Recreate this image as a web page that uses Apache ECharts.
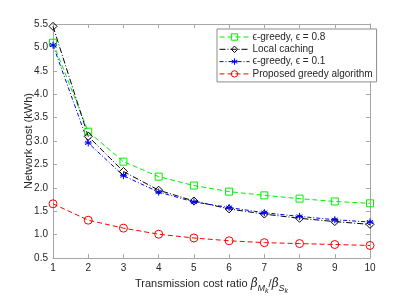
<!DOCTYPE html>
<html>
<head>
<meta charset="utf-8">
<script src="https://cdn.jsdelivr.net/npm/echarts@6/dist/echarts.min.js"></script>
<style>html,body{margin:0;padding:0;background:#fff}#c{width:409px;height:300px}</style>
</head>
<body>
<div id="c"></div>
<script>
const xValues = [1, 2, 3, 4, 5, 6, 7, 8, 9, 10];
const greedy08 = [5.1, 3.2, 2.56, 2.24, 2.05, 1.92, 1.84, 1.77, 1.71, 1.67];
const localCaching = [5.45, 3.1, 2.35, 1.95, 1.72, 1.55, 1.44, 1.35, 1.28, 1.22];
const greedy01 = [5.05, 2.96, 2.26, 1.91, 1.70, 1.58, 1.47, 1.39, 1.32, 1.27];
const proposed = [1.66, 1.31, 1.14, 1.01, 0.93, 0.87, 0.83, 0.81, 0.79, 0.77];
const seriesNames = ['ϵ-greedy, ϵ = 0.8', 'Local caching', 'ϵ-greedy, ϵ = 0.1', 'Proposed greedy algorithm'];

const font = 'Liberation Sans, Arial, Helvetica, sans-serif';
const textColor = '#262626';
const axisColor = '#a6a6a6';
const asterisk = 'path://M0,-10L0,10M-8.7,-5L8.7,5M-8.7,5L8.7,-5M-10,0L10,0';

function pairs(arr) { return xValues.map((x, i) => [x, arr[i]]); }

function mk(name, data, color, symbol, dash, size) {
  return {
    name: name, type: 'line', data: pairs(data),
    symbol: symbol, symbolSize: size,
    lineStyle: { color: color, width: 1, type: dash },
    itemStyle: { color: 'rgba(255,255,255,0)', borderColor: color, borderWidth: 1 },
    emphasis: { disabled: true },
    animation: false, z: 3
  };
}

const chart = echarts.init(document.getElementById('c'), null, { renderer: 'canvas' });
chart.setOption({
  animation: false,
  backgroundColor: '#fff',
  textStyle: { fontFamily: font },
  grid: { left: 53, right: 39, top: 24, bottom: 39 },
  legend: {
    orient: 'vertical', left: 217, top: 29, width: 146,
    backgroundColor: '#fff', borderColor: '#8c8c8c', borderWidth: 1,
    padding: [3, 4, 3, 2], itemGap: 2.3, itemWidth: 30, itemHeight: 8,
    lineStyle: { width: 1 },
    itemStyle: { borderWidth: 1 },
    textStyle: { fontFamily: font, fontSize: 10, color: textColor, padding: [0, 0, 0, -2] },
    data: seriesNames
  },
  xAxis: [{
    type: 'value', min: 1, max: 10, interval: 1, position: 'bottom',
    axisLine: { show: true, lineStyle: { color: axisColor } },
    axisTick: { inside: true, length: 4, lineStyle: { color: axisColor } },
    axisLabel: { color: textColor, fontSize: 10, fontFamily: font, margin: 5 },
    splitLine: { show: false },
    nameLocation: 'middle', nameGap: 16,
    name: '{t|Transmission cost ratio }{b|β}{s|M}{ss|k}{t|/}{b|β}{s|S}{ss|k}',
    nameTextStyle: {
      color: textColor, fontFamily: font, fontSize: 11,
      rich: {
        t: { fontSize: 11, color: textColor, fontFamily: font, lineHeight: 16, verticalAlign: 'top' },
        b: { fontSize: 12, color: textColor, fontFamily: 'DejaVu Serif, serif', fontStyle: 'italic', lineHeight: 16, verticalAlign: 'top' },
        s: { fontSize: 9, color: textColor, fontFamily: font, fontStyle: 'italic', lineHeight: 16, verticalAlign: 'top', padding: [6, 0, 0, 0] },
        ss: { fontSize: 7, color: textColor, fontFamily: font, fontStyle: 'italic', lineHeight: 16, verticalAlign: 'top', padding: [10, 0, 0, 0] }
      }
    }
  }, {
    type: 'value', min: 1, max: 10, interval: 1, position: 'top',
    axisLine: { show: true, lineStyle: { color: axisColor } },
    axisTick: { inside: true, length: 4, lineStyle: { color: axisColor } },
    axisLabel: { show: false }, splitLine: { show: false }
  }],
  yAxis: [{
    type: 'value', min: 0.5, max: 5.5, interval: 0.5, position: 'left',
    axisLine: { show: true, lineStyle: { color: axisColor } },
    axisTick: { inside: true, length: 4, lineStyle: { color: axisColor } },
    axisLabel: { color: textColor, fontSize: 10, fontFamily: font, margin: 5, formatter: v => v.toFixed(1) },
    splitLine: { show: false },
    name: 'Network cost (kWh)', nameLocation: 'middle', nameGap: 19, nameMoveOverlap: false,
    nameTextStyle: { color: textColor, fontSize: 11, fontFamily: font }
  }, {
    type: 'value', min: 0.5, max: 5.5, interval: 0.5, position: 'right',
    axisLine: { show: true, lineStyle: { color: axisColor } },
    axisTick: { inside: true, length: 4, lineStyle: { color: axisColor } },
    axisLabel: { show: false }, splitLine: { show: false }
  }],
  series: [
    mk(seriesNames[0], greedy08, '#00ee00', 'rect', [5, 3], 7),
    mk(seriesNames[1], localCaching, '#000000', 'diamond', [6, 2, 1, 2], 8),
    mk(seriesNames[2], greedy01, '#0000ff', asterisk, [4, 2, 1, 2], 7),
    mk(seriesNames[3], proposed, '#ff0000', 'circle', [5, 3], 8)
  ]
});
</script>
</body>
</html>
